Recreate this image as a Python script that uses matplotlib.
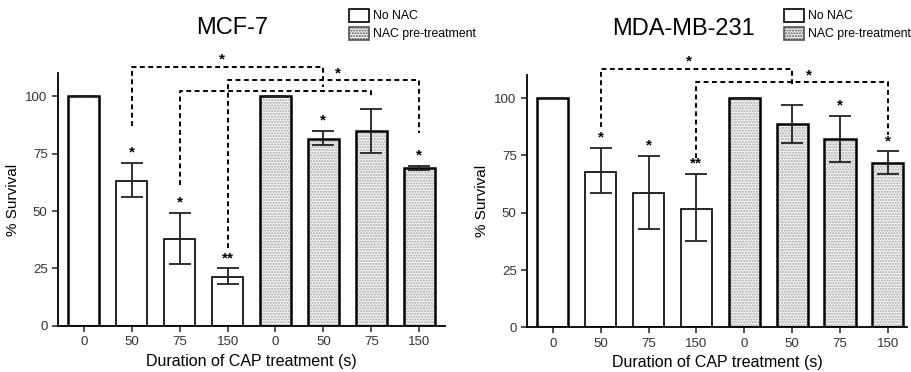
import matplotlib.pyplot as plt
from matplotlib.patches import Patch
import numpy as np

plt.rcParams['font.family'] = ['Liberation Sans', 'DejaVu Sans']

etiquetas = ["0", "50", "75", "150", "0", "50", "75", "150"]

# MCF-7
mcf_media = [100, 63, 37.8, 21.4, 100, 81.5, 84.6, 68.6]
mcf_err_inf = [100, 56, 26.9, 18.2, 100, 78.6, 75.1, 67.8]
mcf_err_sup = [100, 70.9, 49.2, 25.0, 100, 84.9, 94.5, 69.7]
mcf_estrellas = ["", "*", "*", "**", "", "*", "", "*"]
# corchetes: (barra_a, y_a, y_arriba, barra_b, y_b, x_estrella, y_estrella)
mcf_corchetes = [(1, 87, 112.7, 5, 104, 2.88, 116),
                 (3, 34, 107, 7, 84, 5.3, 110),
                 (2, 61.5, 102, 6, 99.5, None, None)]

# MDA-MB-231
mda_media = [100, 67.9, 58.4, 51.8, 100, 88.5, 82.0, 71.5]
mda_err_inf = [100, 58.5, 42.7, 37.7, 100, 80.5, 72.2, 66.7]
mda_err_sup = [100, 78.2, 74.7, 66.8, 100, 97.1, 92.1, 76.7]
mda_estrellas = ["", "*", "*", "**", "", "", "*", "*"]
mda_corchetes = [(1, 87.6, 112.5, 5, 104.7, 2.85, 116),
                 (3, 73.7, 106.8, 7, 83.7, 5.35, 110)]


def graficar_panel(ax, titulo, media, err_inf, err_sup, estrellas, corchetes, xmax):
    x = np.arange(len(media))
    media = np.array(media)
    yerr = [media - np.array(err_inf), np.array(err_sup) - media]
    # fondo punteado de las barras con NAC
    ax.bar(x[4:], media[4:], width=0.65, color='#f2f2f2', hatch='......',
           edgecolor='#a8a8a8', linewidth=0, zorder=1)
    grosor = [1.8, 1.2, 1.2, 1.2, 1.8, 1.8, 1.8, 1.8]
    ax.bar(x, media, width=0.65, facecolor='none', edgecolor='black',
           linewidth=grosor, zorder=2)
    ax.errorbar(x, media, yerr=yerr, fmt='none', ecolor='#222222',
                elinewidth=1.3, capsize=8, capthick=1.3, zorder=3)
    for i, e in enumerate(estrellas):
        if e:
            ax.text(x[i], err_sup[i] + 1.5, e, ha='center', va='bottom',
                    fontsize=11, fontweight='bold')
    for a, ya, yt, b, yb, xs, ys in corchetes:
        ax.plot([a, a, b, b], [ya, yt, yt, yb], color='black', lw=1.4,
                linestyle=(0, (2.5, 1.8)), clip_on=False, zorder=4)
        if xs is not None:
            ax.text(xs, ys, "*", ha='center', va='center', fontsize=11,
                    fontweight='bold', clip_on=False)
    ax.set_xlim(-0.54, xmax)
    ax.set_ylim(0, 110)
    ax.set_yticks([0, 25, 50, 75, 100])
    ax.set_xticks(x)
    ax.set_xticklabels(etiquetas)
    ax.tick_params(labelsize=9.5, length=4, width=1.2, colors='#333333')
    ax.spines['top'].set_visible(False)
    ax.spines['right'].set_visible(False)
    ax.spines['left'].set_linewidth(1.3)
    ax.spines['bottom'].set_linewidth(1.3)
    ax.set_ylabel("% Survival", fontsize=11)
    ax.set_xlabel("Duration of CAP treatment (s)", fontsize=11.5, labelpad=4)


fig = plt.figure(figsize=(9.11, 3.72), dpi=100)
ax1 = fig.add_axes([0.0637, 0.1237, 0.4248, 0.680])
ax2 = fig.add_axes([0.5785, 0.1200, 0.4171, 0.678])

graficar_panel(ax1, "MCF-7", mcf_media, mcf_err_inf, mcf_err_sup,
               mcf_estrellas, mcf_corchetes, 7.54)
graficar_panel(ax2, "MDA-MB-231", mda_media, mda_err_inf, mda_err_sup,
               mda_estrellas, mda_corchetes, 7.4)

fig.text(232 / 911, 1 - 28 / 372, "MCF-7", ha='center', va='center', fontsize=17)
fig.text(683 / 911, 1 - 29 / 372, "MDA-MB-231", ha='center', va='center', fontsize=17)

manejadores = [Patch(facecolor='white', edgecolor='black', linewidth=1.2, label='No NAC'),
               Patch(facecolor='#f2f2f2', edgecolor='#555555', hatch='......',
                     linewidth=1.2, label='NAC pre-treatment')]
for xl in [340 / 911, 775 / 911]:
    fig.legend(handles=manejadores, loc='upper left', bbox_to_anchor=(xl, 1.0),
               frameon=False, fontsize=8.8, handlelength=1.7, handleheight=1.3,
               handletextpad=0.3, labelspacing=0.35, borderaxespad=0.3)

fig.savefig("out.png", dpi=100)
